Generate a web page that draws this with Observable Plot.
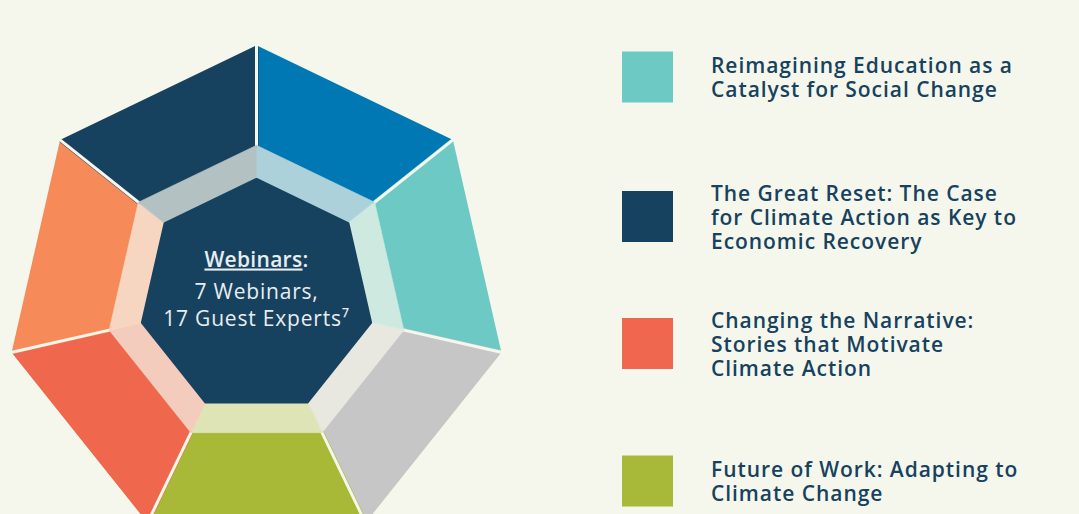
<!DOCTYPE html>
<html><head><meta charset="utf-8">
<script src="https://cdn.jsdelivr.net/npm/d3@7"></script>
<script src="https://cdn.jsdelivr.net/npm/@observablehq/plot@0.6"></script>
<style>
body{margin:0;background:#F6F7EC;width:1079px;height:514px;overflow:hidden;position:relative;font-family:"Open Sans",sans-serif}
#chart{position:absolute;left:0;top:0}
.item{position:absolute;left:622px;display:flex;align-items:center;width:455px;transform:translateY(-50%)}
.sw{width:51px;height:51px;flex:none}
.lab{margin-left:38px;font-weight:600;font-size:21px;line-height:24px;color:#17425F;letter-spacing:0.95px;white-space:pre}
</style></head><body>
<div id="chart"></div><div id="legend"></div>
<script>
// Heptagon edges, clockwise starting at the top vertex
const segmentColors = ["#0078B3", "#6CC9C3", "#C6C6C6", "#A8B837", "#EF684E", "#F68A59", "#17425F"];
const centerColor = "#17425F";
const centerTitle = "Webinars";
const centerLines = ["7 Webinars,", "17 Guest Experts\u2077"];
const legendLabels = [
  "Reimagining Education as a\nCatalyst for Social Change",
  "The Great Reset: The Case\nfor Climate Action as Key to\nEconomic Recovery",
  "Changing the Narrative:\nStories that Motivate\nClimate Action",
  "Future of Work: Adapting to\nClimate Change"
];
const legendColors = ["#6CC9C3", "#17425F", "#F0674F", "#A8B838"];

// layout
const bg = "#F6F7EC";
const W = 520, H = 514, cx = 256, cy = 296, Rpx = 249;
const N = segmentColors.length, rOuter = 1, rRing = 0.607, rInner = 0.47;
const legendCenters = [76.5, 216.5, 343.5, 480.5];

function vert(k, r) { const a = Math.PI / 2 - k * 2 * Math.PI / N; return [r * Math.cos(a), r * Math.sin(a)]; }

const outerRows = [], ringRows = [], centerRows = [], gapRows = [];
segmentColors.forEach((c, i) => {
  const ring = d3.interpolateRgb(bg, c)(0.3);
  [vert(i, rOuter), vert(i + 1, rOuter), vert(i + 1, rRing), vert(i, rRing)].forEach(([x, y]) => outerRows.push({seg: i, x, y, color: c}));
  [vert(i, rRing), vert(i + 1, rRing), vert(i + 1, rInner), vert(i, rInner)].forEach(([x, y]) => ringRows.push({seg: i, x, y, color: ring}));
  const [x1, y1] = vert(i, rRing - 0.005), [x2, y2] = vert(i, rOuter + 0.03);
  gapRows.push({x1, y1, x2, y2});
});
for (let k = 0; k < N; k++) { const [x, y] = vert(k, rInner); centerRows.push({x, y}); }

const chart = Plot.plot({
  width: W, height: H, margin: 0,
  x: {domain: [-cx / Rpx, (W - cx) / Rpx], range: [0, W], axis: null},
  y: {domain: [-(H - cy) / Rpx, cy / Rpx], range: [H, 0], axis: null},
  color: {type: "identity"},
  style: {background: "transparent", overflow: "visible"},
  marks: [
    Plot.line(outerRows, {x: "x", y: "y", z: "seg", fill: "color", stroke: "color", strokeWidth: 4, strokeLinejoin: "round", curve: "linear-closed"}),
    Plot.link(gapRows, {x1: "x1", y1: "y1", x2: "x2", y2: "y2", stroke: bg, strokeWidth: 3}),
    Plot.line(ringRows, {x: "x", y: "y", z: "seg", fill: "color", stroke: "color", strokeWidth: 0.6, curve: "linear-closed"}),
    Plot.line(centerRows, {x: "x", y: "y", fill: centerColor, stroke: centerColor, strokeWidth: 3, strokeLinejoin: "round", curve: "linear-closed"}),
    Plot.text([centerTitle + ":"], {x: 0, y: 0, text: d => d, dy: -30, lineAnchor: "bottom", fontWeight: 600, fontSize: 21, fill: "#E8EDF0", fontFamily: "Open Sans"}),
    Plot.text([centerLines.join("\n")], {x: 0, y: 0, text: d => d, dy: 29, lineAnchor: "bottom", lineHeight: 1.286, fontSize: 21, fill: "#E8EDF0", fontFamily: "Open Sans"})
  ]
});
document.getElementById("chart").appendChild(chart);
chart.querySelectorAll("text").forEach(t => {
  if (t.textContent === centerTitle + ":") {
    t.innerHTML = `<tspan text-decoration="underline">${centerTitle}</tspan>:`;
    t.setAttribute("letter-spacing", "0.3");
  } else {
    t.setAttribute("letter-spacing", "0.8");
  }
});

const legend = document.getElementById("legend");
legendLabels.forEach((l, i) => {
  const it = document.createElement("div"); it.className = "item"; it.style.top = legendCenters[i] + "px";
  const sw = document.createElement("div"); sw.className = "sw"; sw.style.background = legendColors[i];
  const lab = document.createElement("div"); lab.className = "lab"; lab.textContent = l;
  it.appendChild(sw); it.appendChild(lab); legend.appendChild(it);
});
</script>
</body></html>
